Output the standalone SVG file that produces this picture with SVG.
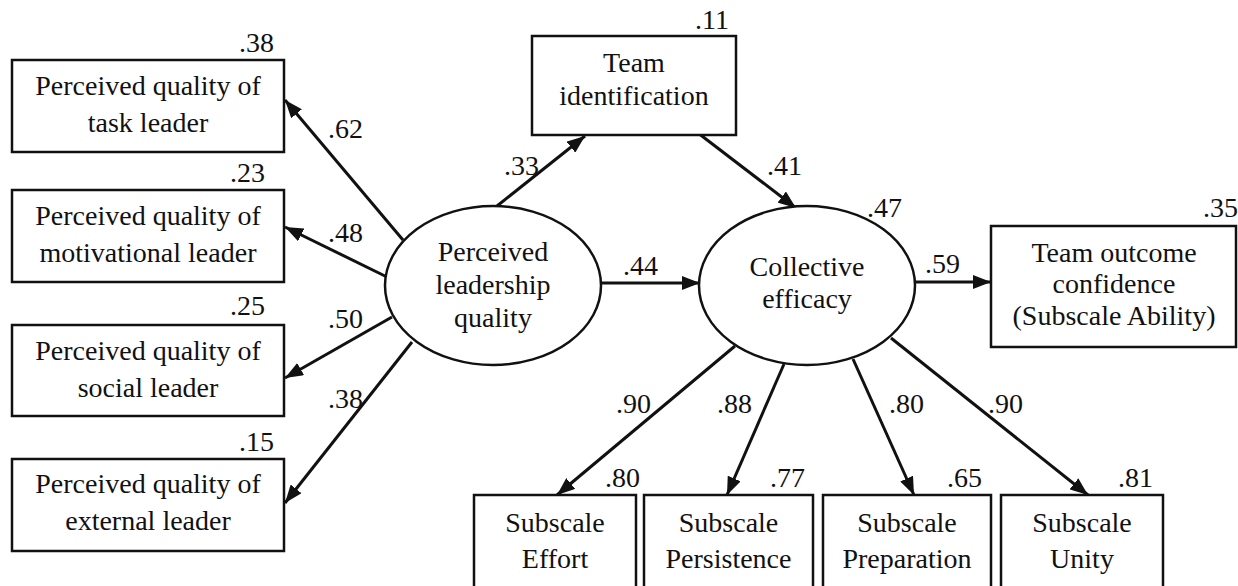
<svg xmlns="http://www.w3.org/2000/svg" width="1238" height="586" viewBox="0 0 1238 586">
<style>
text { font-family: "Liberation Serif", "DejaVu Serif", serif; font-size: 28px; fill: #111; }
.c { text-anchor: middle; }
.box { fill: #fff; stroke: #111; stroke-width: 2.5; }
.ell { fill: #fff; stroke: #111; stroke-width: 2.5; }
.arr { stroke: #111; stroke-width: 3; fill: none; marker-end: url(#ah); }
</style>
<defs>
<marker id="ah" markerUnits="userSpaceOnUse" markerWidth="20" markerHeight="14" refX="18" refY="7" orient="auto">
<path d="M0,0 L18,7 L0,14 z" fill="#111"/>
</marker>
</defs>
<rect width="1238" height="586" fill="#fff"/>

<g id="connectors">
<line class="arr" x1="403" y1="240" x2="285" y2="100"/>
<line class="arr" x1="387" y1="277" x2="285" y2="227"/>
<line class="arr" x1="392" y1="317" x2="285" y2="378"/>
<line class="arr" x1="412" y1="342" x2="285" y2="503"/>
<line class="arr" x1="497" y1="206" x2="585" y2="136"/>
<line class="arr" x1="698" y1="133" x2="796" y2="208"/>
<line class="arr" x1="601" y1="283" x2="700" y2="283"/>
<line class="arr" x1="915" y1="282" x2="991" y2="282"/>
<line class="arr" x1="735" y1="346" x2="557" y2="495"/>
<line class="arr" x1="784" y1="364" x2="727" y2="495"/>
<line class="arr" x1="853" y1="359" x2="914" y2="495"/>
<line class="arr" x1="891" y1="338" x2="1088" y2="495"/>
<text x="328" y="138">.62</text>
<text x="328" y="242">.48</text>
<text x="328" y="328">.50</text>
<text x="328" y="408">.38</text>
<text x="504" y="175">.33</text>
<text x="767" y="175">.41</text>
<text x="623" y="275">.44</text>
<text x="925" y="273">.59</text>
<text x="616" y="413">.90</text>
<text x="717" y="413">.88</text>
<text x="889" y="413">.80</text>
<text x="988" y="413">.90</text>
</g>

<g id="task">
<rect class="box" x="12" y="60" width="272" height="92"/>
<text class="c" x="148" y="95">Perceived quality of</text>
<text class="c" x="148" y="132">task leader</text>
<text x="239" y="52">.38</text>
</g>
<g id="motivational">
<rect class="box" x="12" y="190" width="272" height="92"/>
<text class="c" x="148" y="225">Perceived quality of</text>
<text class="c" x="148" y="262">motivational leader</text>
<text x="230" y="182">.23</text>
</g>
<g id="social">
<rect class="box" x="12" y="325" width="272" height="91"/>
<text class="c" x="148" y="360">Perceived quality of</text>
<text class="c" x="148" y="397">social leader</text>
<text x="230" y="315">.25</text>
</g>
<g id="external">
<rect class="box" x="12" y="459" width="272" height="92"/>
<text class="c" x="148" y="493">Perceived quality of</text>
<text class="c" x="148" y="530">external leader</text>
<text x="239" y="451">.15</text>
</g>

<g id="leadership">
<ellipse class="ell" cx="493" cy="285.5" rx="108" ry="79.5"/>
<text class="c" x="493" y="261">Perceived</text>
<text class="c" x="493" y="294">leadership</text>
<text class="c" x="493" y="327">quality</text>
</g>

<g id="teamid">
<rect class="box" x="532" y="36" width="204" height="99"/>
<text class="c" x="634" y="72">Team</text>
<text class="c" x="634" y="105">identification</text>
<text x="695" y="29">.11</text>
</g>

<g id="efficacy">
<ellipse class="ell" cx="807" cy="285.5" rx="108" ry="79.5"/>
<text class="c" x="807" y="276">Collective</text>
<text class="c" x="807" y="308">efficacy</text>
<text x="867" y="217">.47</text>
</g>

<g id="outcome">
<rect class="box" x="991" y="226" width="245" height="121"/>
<text class="c" x="1114" y="262">Team outcome</text>
<text class="c" x="1114" y="293">confidence</text>
<text class="c" x="1114" y="325">(Subscale Ability)</text>
<text x="1203" y="217">.35</text>
</g>

<g id="effort">
<rect class="box" x="474" y="495" width="162" height="110"/>
<text class="c" x="555" y="532">Subscale</text>
<text class="c" x="555" y="568">Effort</text>
<text x="605" y="487">.80</text>
</g>
<g id="persistence">
<rect class="box" x="644" y="495" width="169" height="110"/>
<text class="c" x="728.5" y="532">Subscale</text>
<text class="c" x="728.5" y="568">Persistence</text>
<text x="770" y="487">.77</text>
</g>
<g id="preparation">
<rect class="box" x="823" y="495" width="168" height="110"/>
<text class="c" x="907" y="532">Subscale</text>
<text class="c" x="907" y="568">Preparation</text>
<text x="947" y="487">.65</text>
</g>
<g id="unity">
<rect class="box" x="1001" y="495" width="162" height="110"/>
<text class="c" x="1082" y="532">Subscale</text>
<text class="c" x="1082" y="568">Unity</text>
<text x="1118" y="487">.81</text>
</g>
</svg>
